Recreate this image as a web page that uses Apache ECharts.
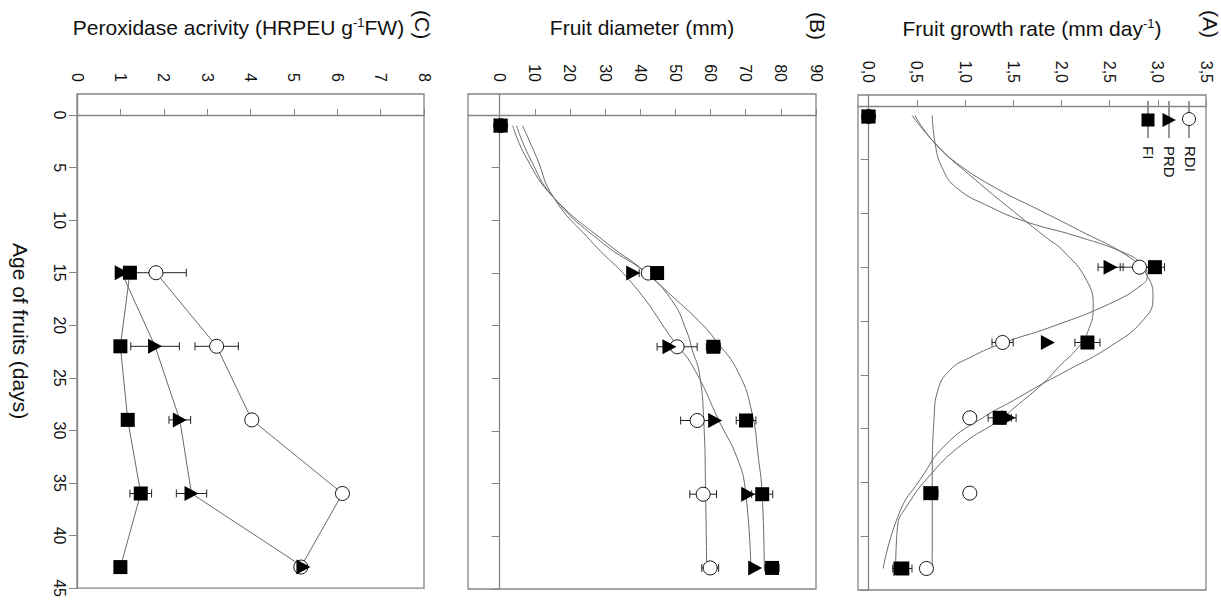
<!DOCTYPE html>
<html>
<head>
<meta charset="utf-8">
<script src="https://cdn.jsdelivr.net/npm/echarts@6/dist/echarts.min.js"></script>
<style>
  html, body { margin: 0; padding: 0; background: #fff; }
  #chart { width: 1221px; height: 600px; }
</style>
</head>
<body>
<div id="chart"></div>
<script>
// sampling days (age of fruits)
const days = [1, 15, 22, 29, 36, 43];
const peroxDays = [15, 22, 29, 36, 43];

// (A) fruit growth rate, mm/day
const rateRDI = [0.0, 2.81, 1.39, 1.05, 1.05, 0.60];
const ratePRD = [0.0, 2.51, 1.86, 1.45, 0.64, 0.33];
const rateFI  = [0.0, 2.97, 2.27, 1.36, 0.65, 0.35];
const rateErrRDI = [0, 0.2, 0.11, 0, 0, 0.06];
const rateErrPRD = [0, 0.13, 0, 0.08, 0, 0];
const rateErrFI  = [0, 0.1, 0.13, 0.12, 0.07, 0.1];
// fitted curves: [day, rate]
const fitRateRDI = [[0.9,0.66],[3.5,0.69],[5.7,0.76],[7.6,0.91],[9.4,1.26],[10.8,1.64],[12.1,2.15],[13.7,2.66],[14.7,2.83],[15.8,2.89],[16.6,2.84],[18.4,2.50],[20.6,1.88],[22,1.41],[23.4,1.05],[24.6,0.84],[26.4,0.72],[28.9,0.68],[35,0.66],[43.1,0.66]];
const fitRateFI  = [[0.9,0.45],[3.5,0.69],[5.3,0.91],[7.7,1.33],[9.6,1.75],[11.6,2.19],[14.1,2.71],[15.8,2.89],[17.8,2.95],[19.9,2.85],[22.4,2.50],[24.6,2.06],[25.8,1.81],[27.4,1.50],[28.9,1.20],[31.4,0.81],[34.8,0.53],[37.8,0.32],[43,0.15]];
const fitRatePRD = [[0.9,0.48],[3.5,0.69],[7.2,1.15],[10.8,1.64],[12.3,1.85],[13.5,2.02],[16.2,2.26],[18.7,2.33],[21.1,2.27],[22.4,2.18],[24.3,1.97],[25.8,1.81],[28,1.52],[29.2,1.36],[31.4,0.98],[34.1,0.66],[37.3,0.39],[39.1,0.30],[43.1,0.28]];

// (B) fruit diameter, mm
const diamRDI = [0.3, 42.3, 50.5, 56.2, 57.9, 59.9];
const diamPRD = [0.3, 38.0, 48.3, 61.3, 70.7, 72.7];
const diamFI  = [0.3, 44.8, 60.8, 70.1, 74.7, 77.5];
const diamErrRDI = [0, 0, 5.7, 4.7, 3.8, 2.4];
const diamErrPRD = [0, 1.7, 0, 0, 0, 0];
const diamErrFI  = [0, 0, 2, 2.8, 3, 2];
const fitDiamFI  = [[1,4.8],[4,8.5],[7.8,15.3],[12.2,29.5],[14.8,41],[17.3,49.4],[19.5,56.5],[21.4,61.5],[24.5,68],[28.3,71.8],[32.5,73.6],[36.1,74.7],[43.2,75.3]];
const fitDiamPRD = [[1,6.5],[4,10.5],[7.8,15.3],[11.9,25.8],[16.3,38.5],[21.4,49.4],[23.9,55],[29.3,62.8],[32.5,67.5],[35.6,69.9],[43.2,71.5]];
const fitDiamRDI = [[1,3.7],[4,7.5],[7.8,15.3],[12.2,30.6],[14.8,41],[17.6,49],[20.7,53.4],[22.3,54.8],[24.5,56.8],[29.3,58.1],[36,58.6],[43.2,58.9]];

// (C) peroxidase activity, HRPEU/g FW
const peroxRDI = [1.82, 3.22, 4.03, 6.12, 5.16];
const peroxPRD = [1.03, 1.80, 2.37, 2.64, 5.22];
const peroxFI  = [1.22, 1.00, 1.17, 1.47, 1.00];
const peroxErrRDI = [0.7, 0.5, 0, 0, 0];
const peroxErrPRD = [0, 0.56, 0.25, 0.35, 0];
const peroxErrFI  = [0.1, 0, 0.1, 0.25, 0];

// tick labels
const dayTicks = [0, 5, 10, 15, 20, 25, 30, 35, 40, 45];
const rateTicks = [0, 0.5, 1, 1.5, 2, 2.5, 3, 3.5];
const diamTicks = [0, 10, 20, 30, 40, 50, 60, 70, 80, 90];
const peroxTicks = [0, 1, 2, 3, 4, 5, 6, 7, 8];

const FONT = '"Liberation Sans", Arial, sans-serif';
const FRAME = '#858585';
const CURVE = '#6a6a6a';

const chart = echarts.init(document.getElementById('chart'), null, { renderer: 'svg' });

// panels: 0 = C (left), 1 = B (middle), 2 = A (right)
const grids = [
  { left: 77, right: 797, top: 94, bottom: 11 },
  { left: 468, right: 405, top: 94, bottom: 11 },
  { left: 858, right: 15, top: 95, bottom: 10 }
].map(g => Object.assign(g, { show: true, borderColor: FRAME, borderWidth: 1.3, backgroundColor: 'transparent' }));

function valAxis(gi, min, max, ticks, name, fmt, padding) {
  return {
    type: 'value', gridIndex: gi, position: 'top', min: min, max: max,
    name: name, nameLocation: 'middle', nameGap: 56,
    nameTextStyle: {
      fontSize: 21, color: '#111', fontFamily: FONT, padding: padding || 0,
      rich: { sup: { fontSize: 13, fontFamily: FONT, color: '#111', verticalAlign: 'top', padding: [0, 0, 9, 0] } }
    },
    axisLine: { show: true, lineStyle: { color: FRAME, width: 1.3 } },
    axisTick: { show: true, length: 6, customValues: ticks, lineStyle: { color: FRAME } },
    axisLabel: { show: true, customValues: ticks, rotate: -90, margin: 12, fontSize: 16, color: '#111', fontFamily: FONT, formatter: fmt },
    splitLine: { show: false }
  };
}

function dayAxis(gi, min, showLabel) {
  return {
    type: 'value', gridIndex: gi, inverse: true, min: min, max: 45,
    name: showLabel ? 'Age of fruits (days)' : '', nameLocation: 'middle', nameRotate: -90, nameGap: 46,
    nameTextStyle: { fontSize: 21, color: '#111', fontFamily: FONT, padding: [0, 20, 0, 0] },
    axisLine: { show: true, lineStyle: { color: FRAME, width: 1.3 } },
    axisTick: { show: true, length: 8, customValues: dayTicks, lineStyle: { color: FRAME } },
    axisLabel: { show: showLabel, customValues: dayTicks, rotate: -90, margin: 10, fontSize: 16, color: '#111', fontFamily: FONT },
    splitLine: { show: false }
  };
}

const pts = (vals, ds) => vals.map((v, i) => [v, ds[i]]);
const fit = arr => arr.map(p => [p[1], p[0]]);

function fitLine(gi, arr) {
  return {
    type: 'line', xAxisIndex: gi, yAxisIndex: gi, data: fit(arr), smooth: 0.5,
    showSymbol: false, symbol: 'none', silent: true, z: 1,
    lineStyle: { color: CURVE, width: 1 }
  };
}

function joinLine(gi, vals, ds) {
  return {
    type: 'line', xAxisIndex: gi, yAxisIndex: gi, data: pts(vals, ds), smooth: false,
    showSymbol: false, symbol: 'none', silent: true, z: 1,
    lineStyle: { color: CURVE, width: 1 }
  };
}

function errBars(gi, vals, errs, ds) {
  return {
    type: 'custom', xAxisIndex: gi, yAxisIndex: gi, z: 2, silent: true,
    encode: { x: 0, y: 1 },
    data: vals.map((v, i) => [v, ds[i], errs[i]]).filter(d => d[2] > 0),
    renderItem(params, api) {
      const v = api.value(0), d = api.value(1), e = api.value(2);
      const a = api.coord([v - e, d]), b = api.coord([v + e, d]);
      const st = { stroke: '#222', lineWidth: 1 };
      const h = 4;
      return {
        type: 'group', children: [
          { type: 'line', shape: { x1: a[0], y1: a[1], x2: b[0], y2: b[1] }, style: st },
          { type: 'line', shape: { x1: a[0], y1: a[1] - h, x2: a[0], y2: a[1] + h }, style: st },
          { type: 'line', shape: { x1: b[0], y1: b[1] - h, x2: b[0], y2: b[1] + h }, style: st }
        ]
      };
    }
  };
}

const markers = {
  RDI: { symbol: 'circle', symbolSize: 14, symbolRotate: 0, itemStyle: { color: '#fff', borderColor: '#111', borderWidth: 1, opacity: 1 } },
  PRD: { symbol: 'triangle', symbolSize: [15, 14], symbolRotate: -90, itemStyle: { color: '#000', opacity: 1 } },
  FI:  { symbol: 'rect', symbolSize: 14, symbolRotate: 0, itemStyle: { color: '#000', opacity: 1 } }
};

function marks(gi, key, vals, ds) {
  return Object.assign({
    type: 'scatter', name: key, xAxisIndex: gi, yAxisIndex: gi, z: 3,
    data: pts(vals, ds)
  }, markers[key]);
}

const series = [
  // (C)
  joinLine(0, peroxRDI, peroxDays), joinLine(0, peroxPRD, peroxDays), joinLine(0, peroxFI, peroxDays),
  errBars(0, peroxRDI, peroxErrRDI, peroxDays), errBars(0, peroxPRD, peroxErrPRD, peroxDays), errBars(0, peroxFI, peroxErrFI, peroxDays),
  marks(0, 'RDI', peroxRDI, peroxDays), marks(0, 'PRD', peroxPRD, peroxDays), marks(0, 'FI', peroxFI, peroxDays),
  // (B)
  fitLine(1, fitDiamRDI), fitLine(1, fitDiamPRD), fitLine(1, fitDiamFI),
  errBars(1, diamRDI, diamErrRDI, days), errBars(1, diamPRD, diamErrPRD, days), errBars(1, diamFI, diamErrFI, days),
  marks(1, 'RDI', diamRDI, days), marks(1, 'PRD', diamPRD, days), marks(1, 'FI', diamFI, days),
  // (A)
  fitLine(2, fitRateRDI), fitLine(2, fitRatePRD), fitLine(2, fitRateFI),
  errBars(2, rateRDI, rateErrRDI, days), errBars(2, ratePRD, rateErrPRD, days), errBars(2, rateFI, rateErrFI, days),
  marks(2, 'RDI', rateRDI, days), marks(2, 'PRD', ratePRD, days), marks(2, 'FI', rateFI, days)
];

const rotText = (x, y, text, size) => ({
  type: 'text', x: x, y: y, rotation: -Math.PI / 2, silent: true,
  style: { text: text, fontSize: size, fontFamily: FONT, fill: '#111', align: 'left', verticalAlign: 'middle' }
});
const lg = { stroke: '#333', lineWidth: 1 };

const graphic = [
  rotText(1210, 10, '(A)', 21),
  rotText(817, 12, '(B)', 21),
  rotText(422, 10, '(C)', 21),
  // legend of panel A
  { type: 'line', silent: true, shape: { x1: 1189, y1: 101, x2: 1189, y2: 138 }, style: lg },
  { type: 'circle', silent: true, shape: { cx: 1189, cy: 119, r: 6.5 }, style: { fill: '#fff', stroke: '#111', lineWidth: 1 } },
  { type: 'line', silent: true, shape: { x1: 1169, y1: 101, x2: 1169, y2: 138 }, style: lg },
  { type: 'polygon', silent: true, shape: { points: [[1162.5, 113], [1176, 120], [1162.5, 127]] }, style: { fill: '#000' } },
  { type: 'line', silent: true, shape: { x1: 1148, y1: 101, x2: 1148, y2: 138 }, style: lg },
  { type: 'rect', silent: true, shape: { x: 1141.5, y: 113.5, width: 13, height: 13 }, style: { fill: '#000' } },
  rotText(1190, 146, 'RDI', 15),
  rotText(1169, 146, 'PRD', 15),
  rotText(1148, 146, 'FI', 15)
];

chart.setOption({
  animation: false,
  backgroundColor: '#fff',
  textStyle: { fontFamily: FONT },
  grid: grids,
  xAxis: [
    valAxis(0, 0, 8, peroxTicks, 'Peroxidase acrivity (HRPEU g{sup|-1}FW)', v => String(v), [0, 24, 0, 0]),
    valAxis(1, -9, 90, diamTicks, 'Fruit diameter (mm)', v => String(v)),
    valAxis(2, -0.11, 3.5, rateTicks, 'Fruit growth rate (mm day{sup|-1})', v => v.toFixed(1).replace('.', ','))
  ],
  yAxis: [dayAxis(0, -2, true), dayAxis(1, -2, false), dayAxis(2, -1, false)],
  series: series,
  graphic: graphic
});
</script>
</body>
</html>
